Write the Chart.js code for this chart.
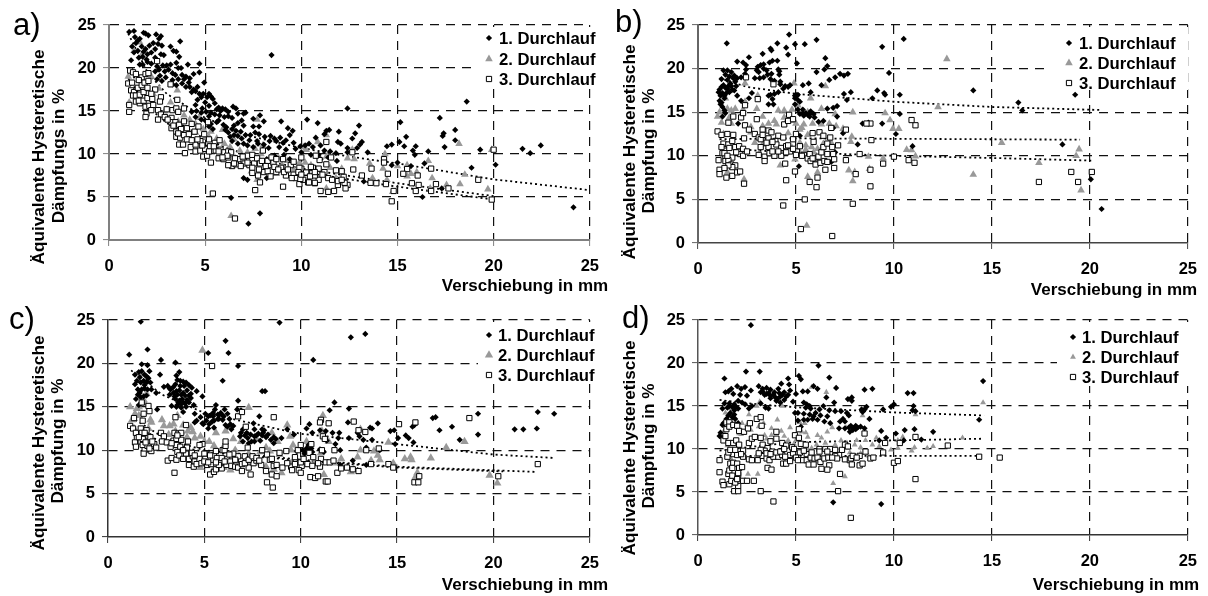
<!DOCTYPE html>
<html>
<head>
<meta charset="utf-8">
<script src="https://cdn.jsdelivr.net/npm/chart.js@4/dist/chart.umd.js"></script>
<style>
html, body { margin: 0; padding: 0; background: #fff; }
canvas { position: absolute; }
</style>
</head>
<body>
<canvas id="panel-a" width="610" height="298" style="left:0;top:0"></canvas>
<canvas id="panel-b" width="598" height="298" style="left:610px;top:0"></canvas>
<canvas id="panel-c" width="610" height="298" style="left:0;top:298px"></canvas>
<canvas id="panel-d" width="598" height="298" style="left:610px;top:298px"></canvas>
<script>
const runLabels = ['1. Durchlauf', '2. Durchlauf', '3. Durchlauf'];
const xTicks = [0, 5, 10, 15, 20, 25];
const yTicks = [0, 5, 10, 15, 20, 25];

// values, [Verschiebung, Daempfung]
const a1 = [[1.05,24.2],[1.3,24.3],[1.35,23.6],[1.2,22.5],[1.5,23.2],[1.8,24.1],[1.9,24],[2.05,23.8],[2.45,23.9],[2.6,23.4],[2.7,23.7],[2.55,22.8],[2.75,22.6],[1.5,22],[1.7,22.5],[1.8,21.9],[1.9,22.2],[2,21.6],[2.1,22.6],[2.3,22.9],[2.7,21.6],[2.85,21.5],[1.3,21.8],[1.55,21.2],[1.75,21.3],[1.95,21],[1.15,20.9],[1.6,20.4],[1.75,20.4],[2,20.7],[2.4,21.2],[2.5,20.2],[2.6,19.8],[2.8,20.3],[2.4,19.6],[2.65,19.1],[2.75,18.5],[2.5,18.7],[3.2,22.5],[3.35,22],[3.5,21.9],[3.7,23.1],[3.65,21.3],[3.5,20.6],[3,20.3],[3.2,20.4],[3.1,19.8],[3.3,19.4],[3.6,20],[3.75,20],[4.1,20.4],[3.45,19.2],[3.6,18.7],[3.8,19.2],[4,19],[4.2,18.8],[4.4,19.3],[3.8,18.2],[4,17.8],[4.2,17.8],[4.4,17.5],[4.7,20.5],[4.7,19.5],[4.95,18.3],[4.5,17.3],[4.7,17],[4.9,17],[5.2,17],[5.3,16.7],[5.4,16.4],[4.6,16.3],[5,16],[5.2,15.6],[5.5,15.9],[5.7,15.4],[5.9,15.3],[6.05,15.2],[6.45,15.5],[6.6,15.3],[4.55,15],[4.8,14.8],[5.05,14.9],[5.3,14.8],[5.5,14.6],[5.75,14.5],[6,14.3],[6.2,14.4],[6.4,14.2],[6.7,14.7],[7,14.7],[7.1,14.8],[4.5,14.3],[4.8,14],[5,13.9],[5.3,13.5],[5.6,13.7],[5.95,13.4],[6.1,13.1],[6.5,13.3],[6.7,13.6],[7,13.3],[7.5,14.1],[7.85,14.5],[7.8,13.2],[8.05,13.8],[8.95,13.8],[9.3,13],[9.55,12.7],[6.2,12.5],[6.5,12.2],[6.7,12.1],[6.85,12.6],[7.1,12.2],[7.35,12.2],[7.6,12.5],[7.8,12.3],[8.1,12],[8.4,12.1],[8.7,11.5],[9.05,11.3],[9.4,12.2],[6.4,11.5],[6.7,11.2],[7,11.2],[7.2,11],[7.5,10.8],[7.75,11.2],[8.05,11.1],[8.35,11.5],[8.85,10.8],[9.2,10.5],[9.6,11.3],[9.95,10.9],[10.2,11],[10.4,11.2],[10.3,14],[10.85,13.6],[8.45,21.5],[6.35,4.9],[7.25,1.9],[7.85,3.1],[7,7.2],[7.2,7],[8.2,7.2],[12.4,15.3],[13,13.3],[12.8,12.4],[12.65,11.8],[11.95,12.6],[11.45,12.8],[11.3,12.7],[11.2,12.3],[10.75,11.9],[13.15,11.4],[13.05,11.1],[11.9,11.4],[12.05,11.2],[12.4,10.7],[12.9,10.7],[13.45,10.2],[12.4,10.2],[11.8,10.1],[11.85,9.2],[14.45,10.9],[14.7,11.1],[15.15,13.7],[15.1,11.4],[15.45,12],[15.35,10.9],[15.95,10.9],[15.8,10.4],[15.9,9.9],[16.6,10.3],[16.4,8.9],[15.7,8.6],[15,9],[14.7,8.7],[18.6,16.1],[17.2,14.2],[18,12.8],[17.4,12.4],[17.35,12.1],[18,11.6],[17.45,10.8],[19.3,10.5],[18.85,8.4],[20.1,8.75],[21.5,10.6],[21.9,10.1],[22.45,11],[24.15,3.8],[16.3,5],[17.3,6],[13.25,6.8],[10.6,10.8],[11,11],[11.2,10.4],[10.9,9.9],[11.4,9.6],[3.3,18.6],[3.5,18],[3.9,18.7],[4.15,18.3],[4.3,17.2],[4.6,17.8],[4.8,16.6],[5.1,16.6],[5.6,15.2],[5.8,15],[6.2,14.9],[5.2,14.4],[5.7,13.9],[5.2,13.2],[5.4,12.9],[6.05,12.8],[6.3,12],[6.6,12.7],[6.9,11.8],[7.3,11.6],[7.5,13.2],[6.9,13.9],[6.4,12.9],[7.7,11.5],[8,10.5],[8.3,10.7],[8.6,11.8],[8.9,11.9],[9.2,11.6],[9.7,10.6],[8.6,9.8],[8.2,9.4],[9.1,9.9],[9.4,9.4],[10,10.2],[10.5,9.9],[11.5,10.3],[11,9.4],[1.6,23.4],[1.4,22.9],[2.2,21.8],[2.4,22.2],[2.2,20.5],[2.9,19.6],[2.95,18.9],[3.3,18.1],[4.5,15.7],[4.3,14.9],[4.85,15.3]];
const a2 = [[1,19],[1.05,16],[1.3,22],[1.6,23],[1.7,21.5],[2.2,19],[2.6,17.6],[3.2,16],[3.55,17.4],[3.4,15.3],[4.2,14],[4.5,13.5],[4.9,12.9],[5.3,12.6],[5.6,11.8],[6,11.2],[6.3,10.8],[6.8,10.4],[7.2,10.2],[7.6,10.6],[7.7,14],[8,11],[8.4,9.6],[8.8,9.6],[9.3,9.2],[9.9,9],[10.2,9],[10.1,10.8],[10.25,10.5],[10.85,11.4],[11.3,12.2],[11.3,9.7],[12.4,9.5],[12.75,9.4],[12.65,10.5],[14.35,10],[13.55,8.9],[14.25,8.3],[15,8.6],[15.5,8.7],[15.7,7.7],[15.5,7.4],[16.6,9.2],[16.8,7.2],[16,7.9],[18.2,11.2],[18.5,7.6],[18.25,6.5],[17.55,6.4],[19.7,5.9],[19.9,10.5],[14.75,5.6],[13.7,7.2],[14.45,7],[16.7,6],[11.3,6],[12.1,8.3],[10.75,7.5],[11.8,7.2],[6.35,2.8],[7.7,7],[5.2,12],[4.7,14.2],[2.9,15],[3.9,14.5],[5.9,12.8],[6.5,11.7],[2,17.5],[2.3,17],[3,15.2],[3.6,13.8],[4.1,12.9],[4.5,12.5],[5,11.9],[5.5,11],[6.2,9.9],[7,9.6],[7.9,10],[8.2,9],[9,8.7],[9.6,8.2],[10.5,8.7],[11.5,8.4],[7.4,8],[8.7,7.7]];
const a3 = [[1,18.2],[1.05,15.7],[1.05,14.9],[1.1,19.7],[1.2,18.3],[1.25,19.5],[1.4,19.3],[1.15,17.4],[1.3,17.2],[1.5,17.7],[1.7,18],[1.7,18.9],[1.55,18.6],[1.85,18.3],[1.9,19.3],[2.05,19.4],[1.25,16.8],[1.4,16.8],[1.6,16.9],[1.8,17.2],[2,17.7],[2.05,18.5],[2.4,17.5],[2.5,20.8],[1.4,16.1],[1.6,15.9],[1.55,16.2],[1.8,16.2],[2,16.5],[2.25,16.4],[2.7,16.6],[2.65,16.1],[1.9,15.5],[2.1,15.6],[2.3,15.7],[1.95,14.7],[1.9,14.3],[2.55,15.1],[2.7,14.6],[2.55,14],[2.9,14.3],[3,15.2],[3.3,15.1],[3.25,14.2],[3.2,18.1],[3.5,15.3],[3.6,14.9],[3.55,16.3],[3.9,15.3],[3.25,13.7],[3.45,13.7],[3.65,13.4],[3.9,13.8],[3.25,13],[3.5,12.6],[3.75,12.9],[4.05,13],[4.3,13.5],[3.5,12],[3.7,11.9],[3.9,12.2],[4.15,12.3],[4.45,12.6],[4.65,13.2],[3.65,11.1],[3.85,11.1],[3.95,10.1],[4.25,10.8],[4.5,11.1],[4.75,11.5],[4.95,12.3],[5.15,13.7],[4.5,10.3],[4.75,10.4],[5,10.6],[5.25,10.9],[5.5,11.3],[5.75,11.6],[4.9,9.7],[5.1,9.8],[5.3,9],[5.4,5.4],[5.55,10.4],[5.8,10.5],[6,10.2],[6.2,10.3],[5.7,9.5],[5.95,9.4],[6.2,9.6],[6.35,10.2],[6.4,8.6],[6.6,8.8],[6.75,9.4],[7,9.2],[7.2,9.8],[7.45,9.9],[6.55,2.5],[7.05,8.9],[7.3,8.7],[7.55,8.9],[7.7,9.5],[7.85,8.9],[8,10.4],[7.6,5.8],[7.75,7.5],[7.85,6.7],[8.05,7.9],[8.25,8],[8.4,7.4],[8.3,8.7],[8.55,9],[8.7,7.9],[8.95,8.4],[9.05,6.2],[9.2,7.5],[9.45,8.7],[9.6,7.6],[9.7,7.2],[9.9,6.5],[10.1,7],[10,8.3],[10.3,7.8],[10.35,6.7],[10.6,8.4],[10.7,6.6],[20,10.5],[19.2,7],[19.9,4.7],[17.65,6],[17,6.5],[16.75,5.7],[16.75,8.3],[16.1,6.4],[15.95,5.7],[15.75,6.6],[16.05,7.5],[15.5,8.25],[15.3,7.7],[14.8,5.7],[14.7,4.5],[14.4,6.5],[14.5,7.7],[14.3,9.4],[14.3,9],[13.9,6.6],[13.6,6.65],[13.65,8.3],[13.15,7.5],[12.7,8.2],[12.65,10.2],[12.4,6.4],[12.3,6],[12.25,6.65],[12.2,7.35],[12.1,8],[11.9,6.4],[11.9,6.85],[11.8,8.1],[11.7,5.7],[11.4,5.6],[11,5.7],[11.55,9.6],[11.3,11.4],[11.3,8.8],[10.95,9.3],[10.75,9.8],[10.9,8.3],[11.4,7.2],[10.9,7],[10.7,6.65],[10.4,6.7],[9.95,7.1],[10.25,7.85],[10.5,8.5],[9.9,8.4],[10.7,7.5],[11.2,7.9],[10,9.6],[2.2,17],[2.2,15.1],[3.05,14],[3.35,13.3],[3.6,12.4],[4.05,11.7],[4.3,11.6],[4.6,11.7],[4.85,11],[5.2,11.7],[5.45,10.9],[5.2,10.3],[5.7,10.3],[6.15,9.8],[6.55,9.5],[6.5,8.9],[6.95,9.7],[6.85,8.6],[7.2,9],[7.45,8.4],[7.95,9.2],[8.25,9.2],[8.45,9.6],[8.6,8.5],[7.45,7.8],[7.8,8.2],[8.15,8.6],[8.8,8.2],[9.1,7.9],[9.3,8.2],[9.5,7.2],[9.05,9.4],[9.85,7.9],[10,7.6],[10.45,7.4],[10.7,7.9],[11.1,7.6],[11.6,7],[12.1,7],[8.7,9.4],[9.6,9.1],[6.2,8.7],[5.9,9.6]];
const aTrend1 = [[1,24],[2,19.5],[3,17],[5,14.2],[7.5,12],[10,10.7],[12.5,9.7],[15,8.9],[20,7.05],[25,5.8]];
const aTrend2 = [[1,20],[2,16.4],[3,14.5],[5,11.7],[7.5,9.6],[10,8.3],[15,6.6],[20,5.1]];
const aTrend3 = [[1,18.8],[2,15.5],[3,13.6],[5,11],[7.5,9.1],[10,7.9],[15,6.2],[20,4.7]];

const b1 = [[1.47,22.9],[1.3,19.8],[1.5,19.8],[1.7,19.6],[1.85,19.2],[2,20.8],[2.3,20.7],[2.45,20.4],[2.6,21.3],[2.45,19.9],[2.4,19.4],[2.2,19],[2,18.9],[1.8,18.9],[1.6,19.1],[1.4,19.3],[1.2,18.8],[1.3,18.1],[1.55,18],[1.7,18],[1.95,18],[1.5,17.7],[1.75,17.6],[1.1,17.6],[1.25,17.2],[1.45,17.2],[1.6,17.3],[1.85,17.5],[1.15,16.9],[1.35,16.6],[1.1,16.3],[1.15,15.9],[1.25,15.6],[1.35,15.2],[1.4,14.9],[1.25,14.5],[2,16.9],[2.2,16.3],[2.6,16.6],[2.75,17.2],[2.05,13.7],[2.9,18.9],[3.1,19.6],[3.05,20.2],[3.2,20.4],[3.35,20.5],[3.3,21.7],[3.15,18.9],[3.35,19],[3.55,19.3],[3.65,20.7],[3.8,20.9],[4.05,20.9],[4.05,22.9],[3.7,22.3],[3.75,22.1],[4.5,22.4],[4.65,23.9],[4.6,21.6],[4.95,22.8],[5.05,20.6],[4.1,19.9],[4.15,19.7],[3.75,19.4],[3.7,18.8],[3.9,18.6],[4.2,18.5],[4.45,18],[4.7,18.1],[4.35,17.7],[4.1,17.3],[3.9,17.1],[3.7,17],[3.6,16.9],[3.8,16.5],[3.6,15.9],[3.85,15.9],[5.35,18.1],[5,17],[4.95,16.6],[5.1,16.4],[5.2,16.2],[4.95,15.9],[5.1,15.3],[5.35,14.9],[5.6,14.7],[5.4,14.6],[5.7,14.5],[5.75,15.1],[5.95,14.4],[6.15,13.9],[6.4,14],[5.45,22.8],[6.05,23.3],[6.5,21.2],[6.6,20.3],[6.05,19.6],[6.45,19.9],[6.3,18.1],[5.65,18.3],[5.75,17.3],[6.7,18.7],[7,19],[7.25,19.4],[7.45,19.2],[6.6,15.4],[6.9,15.5],[7.1,15.7],[7.1,14.5],[6.9,13.2],[7.45,17.1],[7.6,16.4],[7.8,17.3],[7.65,19.4],[7.4,12.6],[8.15,11.3],[8.4,13.7],[8.7,13.8],[8.9,16.6],[9.15,17.5],[9.4,13.7],[9.4,22.5],[9.5,17.2],[9.55,17],[9.75,19.5],[10.1,12.5],[10.3,17],[10.3,14.8],[10.5,23.4],[5.15,8.8],[5.2,12.3],[14.05,17.5],[16.35,16.1],[16.55,15.2],[19.25,17],[18.6,11.3],[10.95,11.1],[20.05,7.3],[20.6,3.9],[6.8,9.3],[7,10.4],[1.2,17.9],[1.4,17.8],[1.65,18.3],[1.9,18.5],[1.5,18.7],[1.05,17.3],[1.35,16.9],[1.2,16.1],[3.35,20],[3,19.8],[3.5,19.8],[4.15,19.3],[4.2,18.2],[4.6,17.9],[5.1,17],[5.05,16.9],[5.35,15.3],[5.5,14.9],[5.7,14.8],[5.2,14.8],[5.9,14.8],[4.95,16.9]];
const b2 = [[12.7,21.1],[12.25,15.6],[15.5,11.5],[10.9,10.65],[11.1,9.95],[14.05,7.85],[17.4,9.2],[19.45,10.75],[19.3,10],[19.55,6.05],[6.5,18],[4.9,18.3],[5.75,16.6],[1.4,16.6],[2.4,18.3],[2.4,16.2],[5.55,2],[7.9,7.1],[7.9,15],[9.55,14.9],[9.8,14.1],[9.95,13.1],[10.25,13.1],[10.65,10.7],[7.4,13.1],[7.85,12.2],[7.8,11.6],[7.7,8.35],[8,8.15],[8.7,9.9],[8.75,8.5],[9.45,9.7],[1,14.5],[1.2,13.8],[1.5,15.4],[1.9,15.4],[2.3,15.3],[1.6,14.4],[3,15.4],[3.3,14.5],[3.05,16.9],[3.9,14],[4.1,15.2],[4.4,15.2],[4.8,15.3],[5.1,15.8],[5.6,15],[6.3,15.4],[7,14.8],[3.6,13.7],[4.5,13.9],[5,13.7],[5.4,13.6],[5.85,13.7],[6.3,13.6],[6.7,13.7],[4.2,8.9],[4.95,9.6],[5.6,7.6],[6.1,8.1],[5.5,11.2],[5.8,11],[6.1,10.8],[5.2,10.4],[6.4,11.4],[6.7,10.2],[2.35,7.3],[1.3,8.5],[1.5,8.1],[3.1,10.2],[3.9,9.9],[2.5,10.4],[2.7,12.7],[3.3,11.3],[7.05,13.4],[5.3,13.2],[4.6,12.6],[1.4,11.1],[1.7,13.7],[1.3,12.5],[1.1,15],[1.7,15.2],[2.7,13.3],[3.3,13.4],[4,13.6],[4.4,14.4],[4.8,14],[5.2,13],[5.6,12.4],[5.2,11.5],[5.5,10.7],[5.9,10.4],[6.3,10.8],[6.8,11.5],[4.4,10.6],[4.8,10.9],[3.6,11],[2.9,11.5]];
const b3 = [[1,12.8],[1.2,12.4],[1.5,12.5],[1.8,12.4],[1.3,11.4],[1.55,11.3],[1.2,11],[1.75,11.7],[1.6,10.9],[1.9,11],[2.1,11.1],[2.3,10.8],[2.35,12],[1.25,10.3],[1.05,9.5],[1.4,9.9],[1.75,9.8],[2.15,10.2],[2.3,10],[2.5,10.5],[1.4,9.4],[1.55,9.5],[1.1,8.4],[1.7,9],[1.9,8.9],[1.75,8.7],[1.1,7.9],[1.45,7.5],[1.75,7.7],[2,8.1],[2.15,8.2],[2.35,6.8],[1.55,13.8],[1.8,14.5],[2.2,14.4],[2.3,14.9],[2.4,15.8],[2.4,13.5],[2.6,13],[2.45,19],[3.05,16.5],[3,14.2],[3.85,18.2],[2.9,12.5],[3.1,12.1],[3.3,13],[3.6,12.9],[3.75,12.7],[4.1,12.3],[4.35,12.1],[3.2,11.9],[3.6,12],[3.95,11.7],[3.2,11],[3.6,11],[4,11.3],[4.25,10.9],[4.5,11.1],[4.85,11.9],[5,12.5],[4.4,13.6],[4.6,14],[4.65,14.7],[4.85,14.2],[3.1,10.1],[3.4,9.9],[3.4,9.4],[3.65,10.3],[3.9,10],[4.25,10],[4.1,10.5],[4.7,10.5],[5.05,10.5],[5.2,11.1],[5.4,10.1],[5.6,9.7],[5.85,12.6],[5.75,9.4],[5.95,9.7],[6.15,9.9],[6,9],[6.25,9.2],[6.45,9.4],[6.2,12.7],[6.4,12.3],[6.75,12.1],[6.8,13.2],[6.6,10.2],[6.9,10.2],[6.95,9.6],[6.95,8.6],[6.5,8.4],[4.45,9.1],[4.95,8.2],[4.5,7.2],[4.35,4.3],[5.45,5],[5.25,1.6],[6.85,0.8],[5.7,7],[6.05,6.4],[6.1,7.5],[7.9,4.5],[8.8,6.5],[7.55,9.5],[8.05,7.9],[8.8,8.4],[8.85,11.8],[8.8,13.7],[8.6,13.7],[8.25,10.2],[7.15,11.2],[7.55,13],[9.45,9.1],[10,9.9],[10.75,9.5],[11.05,9.2],[11.1,13.5],[10.9,14.1],[19.05,8.15],[20.1,8.15],[17.4,7],[19.4,7],[1.35,10.3],[1.5,10],[1.95,10.4],[1.55,8.9],[1.35,8.6],[3.3,12.4],[3.5,11.5],[3.8,11.6],[4.6,11.2],[4.85,10.8],[3.8,10.5],[4.5,10.4],[5.3,10],[5.7,10.2],[5.85,9.7],[6.3,10.4],[6.6,9.3],[5.9,11.6],[6.4,11],[6.6,11.4],[6.85,11],[5,10.1]];
const bTrend1 = [[1.1,18.9],[2.5,17.9],[5,17.1],[10,16.2],[15,15.6],[20.6,15.25]];
const bTrend2 = [[1.1,11.9],[5,12],[10,11.95],[19.5,11.85]];
const bTrend3 = [[1.1,11],[3,10.6],[5,10.4],[10,10],[15,9.75],[20.1,9.45]];

const c1 = [[1.1,21],[1.7,24.8],[2.05,21.6],[2.75,20.4],[3.5,20.1],[1.75,19.9],[2.05,19.8],[1.4,18.7],[1.6,19],[1.75,19.1],[1.9,18.7],[2.15,19.1],[2.1,18.3],[1.4,17.6],[1.7,17.8],[1.85,18],[2,17.9],[2.2,17.8],[2.7,18.7],[1.75,17],[1.9,17.1],[2.25,17],[1.55,16.4],[1.85,16.2],[2,16.3],[2.5,16.6],[1.45,15.9],[1.6,15.2],[1.75,15.5],[2.55,14.7],[2.9,17.3],[3.1,17.4],[3.25,17],[3.4,17.3],[3.55,18.6],[3.7,19],[3.5,17.6],[3.75,18],[3.9,17.9],[4.05,17.8],[4.2,17.5],[4.35,17.2],[3.2,16.4],[3.4,16.6],[3.55,16.8],[3.7,16.9],[3.9,16.6],[4.1,16.9],[4.3,16.5],[4.6,16.8],[3.5,15.9],[3.7,15.7],[3.85,15.9],[4.1,15.8],[4.3,16],[3.3,15.1],[3.6,15.2],[3.8,14.9],[4.05,15],[4.45,15.2],[4.9,16.2],[3.9,14.4],[4.5,14.2],[4.8,13.8],[5.05,14.2],[4.6,13.4],[4.5,13.2],[4.9,13.1],[5.1,13.4],[5.25,13],[5.4,13.3],[5.55,14.7],[5.6,15.2],[5.45,14.3],[5.7,14.1],[5.9,14.1],[6.05,14.7],[5.75,13.6],[5.95,13.5],[6.2,14.2],[6.3,13.6],[6.35,13],[6.1,12.9],[5.2,12.5],[5.5,12.6],[6.5,12.8],[6.75,15.7],[6.7,14.7],[6.9,14.6],[7,12.4],[7.2,12],[6.85,11.6],[7.25,11.4],[7,11],[7.45,11],[7.6,12.4],[7.7,11.7],[7.85,13.9],[7.55,13.1],[8.1,12.3],[8,11.7],[8.3,11.8],[8.45,11.2],[8.7,11.3],[8.6,10.8],[9,11.4],[9.3,12.4],[9.65,11.8],[10.3,12.5],[10.6,12],[5.2,21.2],[6.1,22.6],[6.25,21.2],[6.75,19.7],[5.95,18],[8,16.8],[8.15,16.8],[8.9,24.7],[10.65,20.4],[9.8,9.9],[10.3,10.2],[10.45,10],[10.55,10.2],[10.3,9.9],[12.6,23],[13.35,23.4],[11.75,15.5],[11.5,14.6],[12.5,14.8],[12.45,13.2],[13.05,11.6],[13.25,11.2],[13.7,12.5],[14,13.1],[13.6,12.6],[11.3,12.2],[11.65,12],[11,12.3],[10.45,13],[12,12],[11.95,11.4],[12.5,11.4],[12.95,12],[13.7,11.2],[11.35,11.1],[11.8,10.7],[12.05,10],[11,10.1],[11.2,9.8],[13.4,10.3],[12.7,8.8],[12.05,8.3],[13.4,8.3],[12.95,7.7],[14.65,12.2],[14.85,12.3],[15.05,11.4],[15.45,11.7],[15.6,11.4],[15.8,12.7],[15.9,12.9],[15.85,10.9],[16.85,13.7],[17,13.8],[17.2,12.3],[17.85,12.7],[18.25,11.2],[19.2,14.2],[19.2,11.8],[21.1,12.4],[21.55,12.4],[22.25,12.5],[22.3,14.4],[23.15,14.2],[14.9,10.7],[14.1,10],[1.5,18],[1.65,18.4],[2,18.5],[1.55,17],[1.65,16.6],[1.7,16.1],[1.9,17.5],[2.05,17],[3.2,17.1],[3.45,16.2],[3.6,16.4],[3.8,16.4],[4,16.3],[4.2,16.3],[3.65,15.5],[3.9,15.5],[4.2,15.5],[3.55,15],[3.8,15.3],[4,15.4],[3.95,17.4],[3.75,17.4],[3.6,18.1],[5.2,13.9],[5.45,13.9],[5.7,13.6],[5.85,14.3],[6,13.9],[5.5,13.4],[5.3,14],[4.95,13],[6.2,12.7],[6.4,12.4],[7.1,11.7],[7.3,10.8],[7.4,11.8],[7.6,11],[7.8,11.9],[7.9,11.1],[8.05,12],[8.2,11.5],[8,12.4],[7.6,11.6],[6.9,12],[8.6,11.5],[10.1,10],[10.4,10.6],[10.2,9.6],[10.6,9.8]];
const c2 = [[4.9,21.5],[1.75,18.8],[2,16.5],[1.15,15],[1.5,14.8],[1.85,15.8],[1.25,13.5],[1.6,14],[2.2,13.5],[2.25,13.2],[1.35,12.5],[2.8,13.5],[3.6,14],[3.4,13],[2.9,12.8],[3.15,11.8],[3.9,12.9],[4.15,12.2],[4.4,12.1],[4.8,11.6],[3.6,11.5],[5.25,11],[5.6,12],[6.1,12.2],[6.5,11.3],[7.3,14.9],[6.9,11],[7.7,11.3],[8.2,10.3],[8.5,12],[8.8,11],[9.3,12.9],[9.45,11.6],[9.6,10.6],[4.8,8],[5.4,7.5],[6,8],[6.35,7.7],[6.7,8],[7.4,8.5],[8.6,7.8],[9,7.4],[9.5,8.5],[10.1,9],[10.3,11],[10.7,8.5],[11.05,9.7],[11.15,14],[11.1,12.2],[11.2,7.2],[11.45,11],[11.7,8.5],[12.1,9],[12.6,7.5],[12.75,7.8],[13.1,10],[12.95,9.2],[13.1,12.4],[13.8,9.9],[14,9.4],[14.1,8.9],[14.55,10.9],[15.4,9],[15.7,9.2],[15.75,8.9],[16.05,7.4],[15.95,6.9],[16.75,9.1],[17.55,10.3],[18.5,11],[19.8,7.1],[20.2,6.2],[13.65,8.8],[14.8,8.5],[1.6,15],[1.9,15.4],[1.4,14.2],[2.1,12.5],[3.2,12.8],[3.5,12.2],[4.1,11.5],[4.5,11.4],[4.3,12.6],[5,11],[5.5,10.5],[6,10.4],[6.6,10],[7.3,9.6],[7.9,9.8],[8.4,9.9],[8.9,9.5],[5.8,8],[6.2,8.2],[7,8.6],[7.9,8.5],[8.2,8.1],[9.5,10]];
const c3 = [[1.15,12.8],[1.3,12.5],[1.35,13.7],[1.45,12],[1.5,11.4],[1.4,10.9],[1.45,10.4],[1.7,11],[1.7,12.5],[1.75,15.5],[1.85,14.2],[1.8,13.4],[1.75,12],[1.8,11.3],[2,12.3],[2.1,15.1],[2.15,14.5],[2.1,11.6],[2.2,11.5],[1.8,10.6],[1.9,10],[1.85,9.6],[2.05,10.5],[2.25,9.9],[2.15,10.2],[2.4,10.7],[2.5,10.3],[2.75,12],[2.9,11.6],[2.8,11],[3.05,10.9],[3.25,10.4],[3.1,8.8],[3.3,9.1],[3.4,11.1],[3.45,12],[3.5,13.8],[3.65,11.9],[3.8,12],[3.55,11.3],[3.8,11.2],[3.55,10.6],[3.75,10.4],[3.45,7.4],[3.55,8.9],[3.6,9.8],[3.85,9.4],[4.05,12.9],[4.15,11],[4.1,10.3],[4.05,9.6],[4.2,9],[4.4,9.3],[4.2,8.3],[4.5,8.7],[4.45,8.1],[4.75,9],[4.9,10.7],[4.75,10.6],[5,9.6],[5.05,9],[5.15,8.3],[5.3,7.2],[5.4,19.7],[5.5,7.5],[5.35,8.4],[5.45,8.9],[5.5,9.4],[5.6,7.8],[5.65,9.1],[5.6,9.9],[5.85,8.6],[5.9,9.1],[5.95,10],[5.9,7.9],[6.15,8.3],[6.2,9],[6.05,10],[6.1,10.5],[6.1,11],[6.45,9],[6.35,8.7],[6.4,8.2],[6.6,8.1],[6.75,8],[6.9,8.8],[6.95,7.6],[6.75,9.3],[6.75,13.9],[6.95,14.4],[7.15,12.7],[7.1,9.3],[7.3,8],[7.4,7.2],[7.25,10.3],[7.55,8.5],[7.7,8.8],[7.95,8.3],[8,10],[8.2,7.6],[8.25,6.3],[8.25,9.5],[8.55,5.7],[8.5,7.2],[8.6,8.2],[8.6,13.8],[8.75,7],[8.75,8.3],[8.9,9.7],[9.05,8],[9.25,9.9],[9.5,8.1],[9.55,7.7],[9.7,9.2],[9.85,10],[10.05,8.2],[9.9,7.7],[10,7.4],[10.35,8.4],[10.45,9.7],[10.5,6.9],[10.75,6.8],[10,10.6],[10.55,10.7],[10.65,9.2],[10.9,7],[11.05,9],[11,8.1],[11.05,13.5],[11,13.2],[11.15,11.6],[11.25,11.3],[11.1,10],[11.3,8.6],[11.3,6.4],[11.4,6.4],[11.45,13.1],[11.75,10],[11.9,7.4],[12.4,8],[12.7,7.8],[12.75,13.3],[13,12.3],[13,7.6],[13.35,12.1],[13.4,10],[13.65,8.4],[14.05,10.2],[14.55,8.4],[14.8,8],[15.1,13],[15.9,6.3],[16.1,6.3],[16.15,7],[15.95,13.2],[18.75,13.7],[20.25,7],[22.3,8.4],[1.9,12],[1.6,11.5],[1.95,10.9],[2.3,11],[3.6,11.7],[3.3,10.8],[3.7,9.4],[3.9,9],[3.9,10],[4.35,9.7],[4.5,9.4],[4.6,8.4],[4.85,8.5],[5,8.7],[5.2,8.6],[5.3,9.4],[5.75,8.3],[5.6,8.6],[6.05,8.7],[6.5,9.6],[6.3,9.5],[6.6,8.9],[6.95,8.4],[7.1,8.5],[7.3,8.9],[7.5,9.3],[7.7,9.1],[7.85,8.8],[8.4,8.9],[8.5,9],[9.3,8.5],[9.7,8.4],[10,8.6],[10.15,9],[10.6,8.2],[10.9,8.5],[11.5,8.6],[11.7,8.8],[12.1,7.9]];
const cTrend1 = [[1.2,19.2],[2.8,16.4],[5,14.3],[8.9,12.4],[10,11.9],[15,10.7],[20,9.5],[23.2,9.1]];
const cTrend2 = [[1.2,13.8],[3,11.3],[5,10],[10,8.9],[15,8.1],[22.2,7.5]];
const cTrend3 = [[1.2,12.5],[3,10.8],[5,9.8],[10,8.8],[15,8],[20.5,7.55]];

const d1 = [[2.7,24.4],[1.35,18.2],[2.45,19],[3.15,19],[6.15,19.7],[5.15,18.5],[5.25,18.1],[6.7,18.3],[4.6,18.2],[4.65,17.5],[4.25,17.6],[3.1,17.3],[3.3,17],[2,17.3],[2.2,17],[2.4,17.2],[1.7,17],[1.4,16.6],[1.55,16.7],[1.8,16.4],[2.5,16.2],[2.7,16.8],[3.2,16.6],[3.5,17.1],[3.7,16.9],[3.9,16.6],[4.1,17],[4.4,16.6],[4.7,16.8],[3.4,16.3],[3.7,16.2],[3.95,16],[4.2,16.1],[4.4,15.7],[4.6,16.3],[4,15.6],[4.2,15.4],[5,16.4],[5.35,16.7],[5.6,16.7],[5.9,17.3],[6.1,17],[6.55,16],[7.05,17.1],[7.65,15.8],[7.85,16],[8.5,16.9],[8.9,17],[10.7,16.5],[7.85,15.6],[6.95,15.4],[5.4,15.4],[5.55,15.2],[5.7,15],[1.35,15.3],[1.6,15.3],[1.85,15.2],[2.05,15.6],[2.4,15.2],[2.75,15],[3.2,15.3],[3.45,14.8],[3.6,14.7],[1.25,14.7],[1.65,14.2],[1.85,14.5],[2.05,14.7],[1.55,13.9],[1.75,13.7],[1.3,13],[1.45,13.2],[1.65,13.1],[1.9,13.5],[2.05,13],[1.25,12.8],[1.15,11.9],[1.1,11.5],[1.25,11.3],[4.95,14.2],[5.1,14.2],[5.4,14.1],[5.7,14],[5.75,14.7],[6,14.2],[6.2,14.6],[6.4,15],[6.7,14.5],[7,14.4],[7.3,14.4],[7.6,14.2],[8.35,14.6],[8.5,14.6],[5.1,13.3],[5.4,13.4],[5.6,13.4],[5.85,13.5],[6.1,13.4],[6.45,13.2],[6.75,13],[7.25,13.2],[7.5,13.2],[7.8,12.7],[8.05,12.7],[8.3,12.6],[8.75,13.5],[9.45,14.6],[10,15.2],[9.85,14.9],[7.2,12.4],[7.75,12],[8.05,12.3],[8.5,12.4],[9.35,12.1],[10.1,11.8],[9.6,11.3],[9.25,11],[10.55,12.2],[10.5,11],[11.4,11.1],[12,12],[14.35,13.4],[14.55,17.9],[10.95,14.5],[11,16.5],[11.1,14.4],[6.9,3.8],[9.35,3.6],[11.05,12.3],[11,15],[5.25,12.6],[4.85,15.5],[3.3,16.7],[3.5,16.4],[3.7,15.9],[3.85,16.3],[4.05,15.8],[4.3,16.3],[4.5,16.1],[4.15,16.5],[3.6,16.5],[2.15,16.3],[1.6,15],[1.9,14.9],[1.5,14.8],[1.75,14.9],[1.45,13.5],[1.85,14],[5.5,14.8],[5.9,13.8],[6.25,13.9],[6.6,13.8],[7.4,13.5],[7.5,12.4],[7.7,12.5],[7.95,12.4],[8.15,12.5],[7.9,12.2],[7.7,13.9],[8.4,14.3],[8.6,14.9],[2.25,15.4],[2.6,14.7]];
const d2 = [[5.8,17.2],[6.55,16.6],[4.3,15],[1.4,14.2],[1.7,14.7],[2.6,14],[3,15],[3.15,15.5],[2.25,13],[3.1,12.6],[3.35,13],[3.75,12.4],[4.05,13.4],[4.25,12.1],[4.7,12.5],[1.3,12],[2.2,11.7],[2.9,11.3],[3.4,11.6],[3.75,11.6],[4.4,11.5],[5,11],[5.2,13.1],[5.45,13],[5.3,12],[5.5,11.9],[6.3,11.3],[6.6,12],[6.85,12.5],[7.3,11],[7.55,12.5],[7.6,10.7],[7.8,12.2],[8,10.5],[8.3,10.2],[8.4,13.9],[8.55,11],[9.1,11.3],[9.25,10.3],[9.85,9.9],[10.2,11],[10.45,11.4],[10.2,10.1],[11.1,14],[11.05,10.2],[10.9,9.8],[11.7,10.1],[12,10.3],[13.5,11.3],[14.55,15.4],[2.55,7.1],[3.05,7.1],[3,9.3],[1.1,8.7],[1.7,8.8],[6.9,6],[7.5,6.8],[5.8,10.1],[4.9,9.5],[5.6,10],[6.4,10],[7.05,10.1],[7.75,9.6],[6.05,10.5],[8.3,9.5],[8.7,9.2],[1.5,13.5],[1.9,13],[2.1,11.8],[2.5,12.8],[2.7,12.2],[3.5,11.2],[4.6,11],[4.9,10.6],[5.6,11.4],[6.1,11.6],[6.5,10.7],[7,10.5],[8.1,11],[8.9,10.5],[1.5,10.4]];
const d3 = [[1.1,8.7],[1.1,7.3],[1.25,6.2],[1.3,5.8],[1.6,5.9],[1.7,6.3],[1.85,5.1],[2.05,5.1],[2.05,5.7],[1.95,6.5],[2.05,7],[2.3,6.3],[2.5,6.3],[2.85,6.3],[3.2,5.1],[3.85,3.9],[7.8,2],[7.15,5.1],[7.25,7.1],[3.55,7.8],[3.75,7.6],[1.55,7.1],[1.6,7.5],[1.65,8.3],[1.8,8.4],[2,8.3],[2.1,7.8],[2.25,7.9],[2.05,7.2],[1.5,9.1],[1.8,9.4],[2,9.3],[2.3,9.1],[2.6,8.8],[2.75,8.7],[3.05,8.7],[3.3,9.2],[3.5,8.9],[3.65,8.7],[3.85,9.1],[4.1,9.1],[4.3,9.3],[4.35,8.3],[4.5,8.3],[4.7,9.3],[4.85,9.5],[1.3,11],[1.4,11.5],[1.45,12.3],[1.45,13.1],[1.6,13.1],[1.6,12.6],[1.8,12.8],[2,12.7],[2.1,12.1],[2.35,12],[2.55,12.4],[2.65,13],[1.55,10.7],[1.8,10.7],[1.95,11],[2.1,10.5],[2.3,9.8],[2.6,10.7],[2.75,11.2],[2.9,11.4],[3,13.5],[3.2,13.7],[3.25,12.7],[3.2,11.3],[3.3,10.5],[3.55,10.1],[3.7,10.9],[3.4,9.8],[3.8,9.7],[4,11.2],[4,12],[4.3,10.7],[4.5,10.4],[4.8,10.2],[4.95,11.6],[5.15,12.3],[5.15,11.3],[5.25,10.6],[5.5,10.5],[5.55,9.4],[5.2,9.6],[5.35,8.7],[5.55,8.7],[5.75,9],[5.65,8.2],[5.9,8.2],[5.95,8.9],[6.1,9],[6.25,8.5],[6.3,7.7],[6.45,8.9],[6.5,10],[6.75,10],[6.65,9],[6.7,8.1],[6.6,7.6],[7,9.9],[7.2,9.3],[7.35,9.9],[7.5,8.8],[7.75,8.7],[7.85,8.2],[7.8,8.9],[7.5,10.5],[7.65,10.3],[8.25,9.2],[8.25,8.1],[8.4,8.3],[8.55,9.7],[8.5,11.8],[8.8,8.9],[8.95,9],[9.45,9.6],[9.55,10.7],[10,8.4],[10.2,8.6],[10.3,10.7],[11.1,11.4],[12.75,10.4],[14.35,9.1],[15.4,9],[11.1,6.5],[6.6,9.7],[6.2,10],[1.55,9.6],[1.65,9.9],[1.9,9.9],[2.2,9.4],[1.75,6.9],[1.9,6.1],[1.75,7.8],[2,6.5],[3.2,9.9],[3.5,9.5],[3.7,9.4],[4,9.6],[4.2,9.7],[4.45,9.1],[4.7,8.6],[4.4,10],[5,9],[5.1,8.7],[5.4,9.8],[5.8,9.6],[6.2,9.7],[7,9.2],[7.1,8.9],[7.9,9.2],[8.1,9],[3.1,9.5],[4.9,10],[6.85,9]];
const dTrend1 = [[1.1,15.7],[3,15.2],[5,14.85],[10,14.25],[14.6,13.9]];
const dTrend2 = [[1.1,9.8],[2.5,10.2],[5,10.8],[10,11],[14.6,11.2]];
const dTrend3 = [[1.1,9.2],[5,9.2],[10,9.2],[14.6,9.2]];

const toPoints = arr => arr.map(p => ({ x: p[0], y: p[1] }));

// bold text plus the white box behind the legend
const panelText = {
    id: 'panelText',
    beforeDatasetsDraw(chart, args, opts) {
        const ctx = chart.ctx;
        const box = opts.legendBox;
        ctx.save();
        ctx.fillStyle = '#fff';
        ctx.fillRect(box[0], box[1], box[2], box[3]);
        ctx.restore();
    },
    afterDraw(chart, args, opts) {
        const ctx = chart.ctx;
        ctx.save();
        ctx.fillStyle = '#000';

        ctx.font = '31px "Liberation Sans", Arial, sans-serif';
        ctx.textAlign = 'left';
        ctx.textBaseline = 'alphabetic';
        ctx.fillText(opts.letter, opts.letterPos[0], opts.letterPos[1]);

        ctx.font = 'bold 17px "Liberation Sans", Arial, sans-serif';
        ctx.textAlign = 'center';
        ctx.textBaseline = 'middle';
        ctx.fillText('Verschiebung in mm', opts.xTitlePos[0], opts.xTitlePos[1]);

        ctx.font = 'bold 17.2px "Liberation Sans", Arial, sans-serif';
        opts.yTitle.forEach((line, i) => {
            ctx.save();
            ctx.translate(opts.yTitlePos[i][0], opts.yTitlePos[i][1]);
            ctx.rotate(-Math.PI / 2);
            ctx.fillText(line, 0, 0);
            ctx.restore();
        });

        // legend rows
        ctx.font = 'bold 16.7px "Liberation Sans", Arial, sans-serif';
        ctx.textAlign = 'left';
        runLabels.forEach((label, i) => {
            const ds = chart.data.datasets[i];
            const y = opts.legendRows[i];
            ctx.fillStyle = ds.pointBackgroundColor;
            ctx.strokeStyle = ds.pointBorderColor;
            ctx.lineWidth = ds.pointBorderWidth;
            Chart.helpers.drawPoint(ctx, {
                pointStyle: ds.pointStyle,
                radius: ds.pointRadius,
                borderWidth: ds.pointBorderWidth,
                rotation: 0
            }, opts.legendMarkerX, y);
            ctx.fillStyle = '#000';
            ctx.fillText(label, opts.legendTextX, y + 1);
        });
        ctx.restore();
    }
};

function buildPanel(id, runs, trends, cfg) {
    const W = document.getElementById(id).width;
    const H = document.getElementById(id).height;
    const trendSets = trends.map(t => ({
        type: 'scatter',
        data: toPoints(t),
        showLine: true,
        borderColor: '#000',
        borderWidth: 1.8,
        borderDash: [2, 3],
        pointRadius: 0,
        order: 5
    }));
    const gridColor = ctx => (ctx.tick && ctx.tick.value === 0) ? 'rgba(0,0,0,0)' : '#111';
    const axis = (ticksList, border, fit, pad) => ({
        type: 'linear',
        min: 0,
        max: 25,
        afterBuildTicks: s => { s.ticks = ticksList.map(v => ({ value: v })); },
        afterFit: fit,
        border: { color: border.color, width: border.width, dash: [9, 7] },
        grid: { color: gridColor, lineWidth: 1.2, tickLength: 6, tickColor: border.color, tickWidth: 1, tickBorderDash: [] },
        ticks: {
            color: '#000',
            padding: pad,
            maxRotation: 0,
            autoSkip: false,
            font: { family: '"Liberation Sans", Arial, sans-serif', size: 16.5, weight: 'bold' }
        }
    });

    return new Chart(document.getElementById(id), {
        type: 'scatter',
        data: {
            datasets: [
                {
                    label: runLabels[0], data: toPoints(runs[0]), order: 3,
                    pointStyle: 'rectRot', pointRadius: 3.1, pointBorderWidth: 0,
                    pointBackgroundColor: '#000', pointBorderColor: '#000'
                },
                {
                    label: runLabels[1], data: toPoints(runs[1]), order: 4,
                    pointStyle: 'triangle', pointRadius: cfg.triRadius, pointBorderWidth: 0,
                    pointBackgroundColor: '#999', pointBorderColor: '#999'
                },
                {
                    label: runLabels[2], data: toPoints(runs[2]), order: 2,
                    pointStyle: 'rect', pointRadius: 3.7, pointBorderWidth: 1,
                    pointBackgroundColor: '#fff', pointBorderColor: '#000'
                }
            ].concat(trendSets)
        },
        options: {
            responsive: false,
            animation: false,
            events: [],
            layout: { padding: { top: cfg.top, right: W - cfg.right, left: 0, bottom: 0 } },
            plugins: {
                legend: { display: false },
                tooltip: { enabled: false },
                panelText: cfg.text
            },
            scales: {
                x: axis(xTicks, cfg.xBorder, s => { s.height = H - cfg.bottom; }, 11),
                y: axis(yTicks, cfg.yBorder, s => { s.width = cfg.left; }, 7)
            }
        },
        plugins: [panelText]
    });
}

buildPanel('panel-a', [a1, a2, a3], [aTrend1, aTrend2, aTrend3], {
    left: 109, right: 599, top: 25, bottom: 240, triRadius: 4.4,
    xBorder: { color: '#808080', width: 2 }, yBorder: { color: '#808080', width: 2 },
    text: {
        letter: 'a)', letterPos: [13, 35],
        yTitle: ['Äquivalente Hysteretische', 'Dämpfungs in %'], yTitlePos: [[39, 157], [59, 156]],
        xTitlePos: [525, 286],
        legendBox: [478, 27, 120, 62], legendRows: [38, 59, 79], legendMarkerX: 489, legendTextX: 499
    }
});
buildPanel('panel-b', [b1, b2, b3], [bTrend1, bTrend2, bTrend3], {
    left: 88, right: 580, top: 25, bottom: 243, triRadius: 4.4,
    xBorder: { color: '#444', width: 1.5 }, yBorder: { color: '#666', width: 2 },
    text: {
        letter: 'b)', letterPos: [5, 32],
        yTitle: ['Äquivalente Hysteretische', 'Dämpfung in %'], yTitlePos: [[20, 152], [39, 151]],
        xTitlePos: [504, 290],
        legendBox: [435, 27, 143, 63], legendRows: [43, 63, 83], legendMarkerX: 459, legendTextX: 469
    }
});
buildPanel('panel-c', [c1, c2, c3], [cTrend1, cTrend2, cTrend3], {
    left: 108, right: 600, top: 22, bottom: 239, triRadius: 4.8,
    xBorder: { color: '#333', width: 1.5 }, yBorder: { color: '#333', width: 1.5 },
    text: {
        letter: 'c)', letterPos: [9, 31],
        yTitle: ['Äquivalente Hysteretische', 'Dämpfung in %'], yTitlePos: [[39, 145], [58, 143]],
        xTitlePos: [525, 287],
        legendBox: [478, 24, 121, 62], legendRows: [37, 57, 77], legendMarkerX: 489, legendTextX: 498
    }
});
buildPanel('panel-d', [d1, d2, d3], [dTrend1, dTrend2, dTrend3], {
    left: 88, right: 580, top: 22, bottom: 237, triRadius: 3.4,
    xBorder: { color: '#333', width: 1.5 }, yBorder: { color: '#555', width: 1.5 },
    text: {
        letter: 'd)', letterPos: [12, 30],
        yTitle: ['Äquivalente Hysteretische', 'Dämpfung in %'], yTitlePos: [[20, 150], [39, 148]],
        xTitlePos: [506, 287],
        legendBox: [447, 24, 132, 64], legendRows: [39, 59, 79], legendMarkerX: 463, legendTextX: 472
    }
});
</script>
</body>
</html>
